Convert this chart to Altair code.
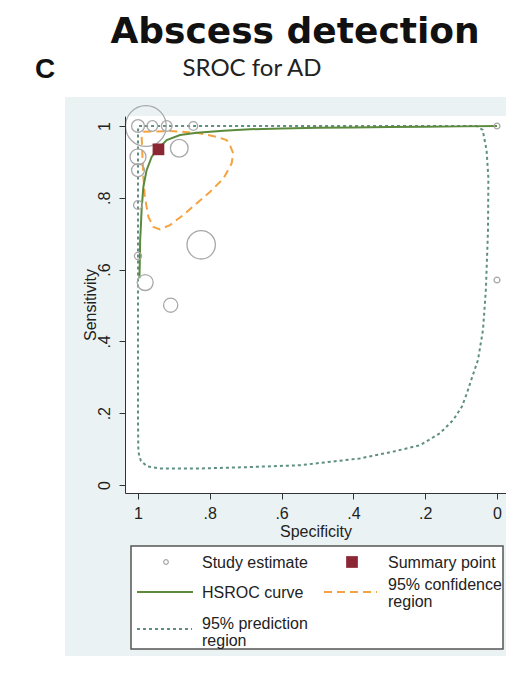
import altair as alt
import pandas as pd

# ---- data ----
study_spec = [1.0, 0.978, 0.960, 0.920, 0.846, 0.885, 1.0, 1.0, 1.0, 1.0, 0.980, 0.909, 0.824, 0.0, 0.0]
study_sens = [1.0, 1.0, 1.0, 1.0, 1.0, 0.938, 0.914, 0.877, 0.780, 0.638, 0.564, 0.501, 0.669, 1.0, 0.571]
study_weight = [53, 529, 36, 36, 25, 100, 81, 53, 25, 16, 81, 64, 256, 11, 11]

summary_spec = [0.943]
summary_sens = [0.935]

hsroc_spec = [0.996, 0.995, 0.994, 0.992, 0.990, 0.985, 0.976, 0.962, 0.948, 0.920, 0.883,
              0.836, 0.762, 0.688, 0.60, 0.50, 0.40, 0.30, 0.20, 0.10, 0.0]
hsroc_sens = [0.576, 0.62, 0.682, 0.72, 0.766, 0.831, 0.877, 0.914, 0.933, 0.961, 0.975,
              0.981, 0.987, 0.991, 0.993, 0.995, 0.996, 0.997, 0.998, 0.999, 1.0]

conf_spec = [0.985, 0.911, 0.836, 0.781, 0.753, 0.744, 0.735, 0.739, 0.762, 0.799, 0.836,
             0.874, 0.911, 0.939, 0.957, 0.971, 0.981, 0.985, 0.988, 0.990, 0.985]
conf_sens = [0.984, 0.986, 0.981, 0.970, 0.961, 0.947, 0.924, 0.896, 0.854, 0.817, 0.785,
             0.752, 0.724, 0.712, 0.719, 0.747, 0.803, 0.859, 0.924, 0.975, 0.984]

pred_spec = [0.997, 0.549, 0.057, 0.040, 0.029, 0.024, 0.025, 0.031, 0.039, 0.053, 0.072,
             0.084, 0.098, 0.122, 0.159, 0.214, 0.289, 0.382, 0.549, 0.688, 0.827, 0.939,
             0.975, 0.992, 0.999, 1.0, 1.0, 1.0, 1.0, 0.997]
pred_sens = [1.0, 1.0, 1.0, 0.989, 0.933, 0.855, 0.710, 0.543, 0.432, 0.348, 0.292,
             0.255, 0.218, 0.181, 0.144, 0.111, 0.093, 0.074, 0.055, 0.050, 0.046, 0.046,
             0.052, 0.067, 0.092, 0.180, 0.515, 0.794, 0.989, 1.0]

tick_values = [0, 0.2, 0.4, 0.6, 0.8, 1.0]

legend_labels = ["Study estimate", "Summary point", "HSROC curve",
                 "95% confidence\nregion", "95% prediction\nregion"]

# ---- styling ----
C_STUDY = "#a8a8a8"
C_SUM = "#8b2635"
C_HSROC = "#5b8a3c"
C_CONF = "#f4a340"
C_PRED = "#5f8f82"
C_BG = "#eaf2f3"
FONT = "Liberation Sans"

W, H = 381, 377
PAD_L, PAD_T, PAD_B = 117, 108, 163
x_scale = alt.Scale(domain=[-0.0251, 1.0362], reverse=True, nice=False, zero=False)
y_scale = alt.Scale(domain=[-0.0223, 1.0279], nice=False, zero=False)

lab_expr = "datum.value == 1 ? '1' : datum.value == 0 ? '0' : replace(format(datum.value, '.1f'), '0.', '.')"

x_axis = alt.Axis(values=tick_values, labelExpr=lab_expr, title="Specificity", grid=False,
                  tickSize=6, labelPadding=6, titlePadding=2, zindex=1,
                  labelFont=FONT, labelFontSize=16, titleFont=FONT, titleFontSize=16,
                  titleFontWeight="normal", labelColor="#222", titleColor="#222",
                  domainColor="#333", tickColor="#333")
y_axis = alt.Axis(values=tick_values, labelExpr=lab_expr, title="Sensitivity", grid=False,
                  tickSize=6, labelPadding=7, titlePadding=-2, labelAngle=270, zindex=1,
                  labelFont=FONT, labelFontSize=16, titleFont=FONT, titleFontSize=16,
                  titleFontWeight="normal", labelColor="#222", titleColor="#222",
                  domainColor="#333", tickColor="#333")

one = pd.DataFrame({"k": [0]})

def curve_df(sp, se):
    return pd.DataFrame({"spec": sp, "sens": se, "i": list(range(len(sp)))})

# background frame and white plot region
bg = alt.Chart(one).mark_rect(fill=C_BG).encode(
    x=alt.value(-60), x2=alt.value(W), y=alt.value(-19), y2=alt.value(H + PAD_B))
plot_bg = alt.Chart(one).mark_rect(fill="white").encode(
    x=alt.value(0), x2=alt.value(W), y=alt.value(0), y2=alt.value(H))

pred = alt.Chart(curve_df(pred_spec, pred_sens)).mark_line(
    color=C_PRED, strokeWidth=2, strokeDash=[3, 3]).encode(
    x=alt.X("spec:Q", scale=x_scale, axis=x_axis),
    y=alt.Y("sens:Q", scale=y_scale, axis=y_axis),
    order="i:O")

conf = alt.Chart(curve_df(conf_spec, conf_sens)).mark_line(
    color=C_CONF, strokeWidth=2, strokeDash=[8, 5]).encode(
    x="spec:Q", y="sens:Q", order="i:O")

hsroc = alt.Chart(curve_df(hsroc_spec, hsroc_sens)).mark_line(
    color=C_HSROC, strokeWidth=2).encode(x="spec:Q", y="sens:Q", order="i:O")

studies = alt.Chart(pd.DataFrame({"spec": study_spec, "sens": study_sens, "w": study_weight})).mark_point(
    shape="circle", filled=False, stroke=C_STUDY, strokeWidth=1.3, opacity=1).encode(
    x="spec:Q", y="sens:Q",
    size=alt.Size("w:Q", scale=alt.Scale(domain=[0, 529], range=[0, 1662]), legend=None))

summary = alt.Chart(pd.DataFrame({"spec": summary_spec, "sens": summary_sens})).mark_square(
    size=137, color=C_SUM, opacity=1).encode(x="spec:Q", y="sens:Q")

# headings
t1 = alt.Chart(one).mark_text(text="Abscess detection", font="DejaVu Sans", fontSize=36,
                              fontWeight="bold", align="center", baseline="alphabetic",
                              color="#111").encode(x=alt.value(170), y=alt.value(-73))
t2 = alt.Chart(one).mark_text(text="C", font=FONT, fontSize=28, fontWeight="bold",
                              align="center", baseline="alphabetic",
                              color="#111").encode(x=alt.value(-80), y=alt.value(-38))
t3 = alt.Chart(one).mark_text(text="SROC for AD", font="Lato", fontSize=24,
                              align="center", baseline="alphabetic",
                              color="#222").encode(x=alt.value(127), y=alt.value(-40.5))

# legend (drawn by hand, Stata style)
leg_box = alt.Chart(one).mark_rect(fill="white", stroke="#555", strokeWidth=1.5).encode(
    x=alt.value(6), x2=alt.value(378), y=alt.value(430), y2=alt.value(533))
col_sym = [41, 227]
col_txt = [77, 263]
leg_layers = [leg_box]
leg_layers.append(alt.Chart(one).mark_point(shape="circle", filled=False, stroke=C_STUDY,
                                            strokeWidth=1.2, size=22, opacity=1).encode(
    x=alt.value(col_sym[0]), y=alt.value(446)))
leg_layers.append(alt.Chart(one).mark_square(size=137, color=C_SUM, opacity=1).encode(
    x=alt.value(col_sym[1]), y=alt.value(446)))
leg_layers.append(alt.Chart(one).mark_rule(color=C_HSROC, strokeWidth=2).encode(
    x=alt.value(12), x2=alt.value(68), y=alt.value(476)))
leg_layers.append(alt.Chart(one).mark_rule(color=C_CONF, strokeWidth=2, strokeDash=[8, 5]).encode(
    x=alt.value(199), x2=alt.value(252), y=alt.value(476)))
leg_layers.append(alt.Chart(one).mark_rule(color=C_PRED, strokeWidth=2, strokeDash=[3, 3]).encode(
    x=alt.value(12), x2=alt.value(67), y=alt.value(513)))
label_pos = [(col_txt[0], 452), (col_txt[1], 452), (col_txt[0], 482), (col_txt[1], 474), (col_txt[0], 513)]
for lab, (lx, ly) in zip(legend_labels, label_pos):
    leg_layers.append(alt.Chart(one).mark_text(text=lab, lineBreak="\n", lineHeight=17,
                                               font=FONT, fontSize=16, align="left",
                                               baseline="alphabetic", color="#222").encode(
        x=alt.value(lx), y=alt.value(ly)))

chart = alt.layer(bg, plot_bg, pred, conf, hsroc, studies, summary, t1, t2, t3, *leg_layers).properties(
    width=W, height=H,
    autosize=alt.AutoSizeParams(type="none"),
    padding={"left": PAD_L, "top": PAD_T, "right": 0, "bottom": PAD_B},
    background="white",
).configure_view(stroke=None, fill="white")

chart.save("out.html", embed_options={"renderer": "svg", "actions": False})
